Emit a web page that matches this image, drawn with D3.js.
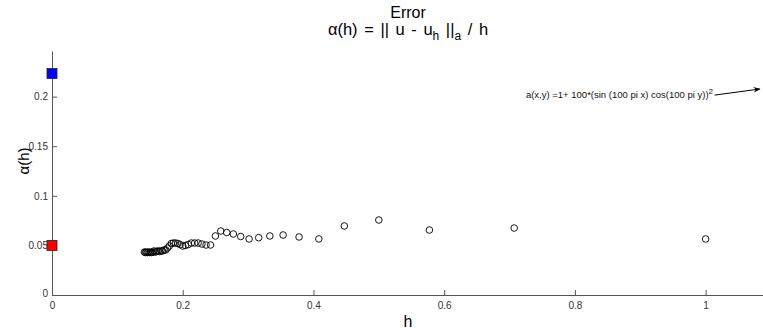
<!DOCTYPE html>
<html><head><meta charset="utf-8">
<script src="https://cdn.jsdelivr.net/npm/d3@7"></script>
<style>body{margin:0;background:#fff}svg{display:block}</style>
</head><body>
<svg id="chart" width="763" height="331"></svg>
<script>
const hValues = [1.0,0.7071,0.5774,0.5,0.4472,0.4082,0.378,0.3536,0.3333,0.3162,0.3015,0.2887,0.2774,0.2673,0.2582,0.25,0.2425,0.2357,0.2294,0.2236,0.2182,0.2132,0.2085,0.2041,0.2,0.1961,0.1925,0.189,0.1857,0.1826,0.1796,0.1768,0.1741,0.1715,0.169,0.1667,0.1644,0.1622,0.1601,0.1581,0.1562,0.1543,0.1525,0.1508,0.1491,0.1474,0.1459,0.1443,0.1429,0.1414];
const alphaValues = [0.0565,0.0675,0.0655,0.0756,0.0696,0.0565,0.0585,0.0605,0.0595,0.0578,0.0565,0.059,0.0615,0.063,0.0645,0.0595,0.0504,0.0504,0.0514,0.0524,0.0524,0.0524,0.0509,0.0499,0.0494,0.0509,0.0519,0.0524,0.0524,0.0519,0.0494,0.0474,0.0454,0.0454,0.0444,0.0444,0.0439,0.0444,0.0439,0.0433,0.0444,0.0433,0.0428,0.0433,0.0428,0.0433,0.0428,0.0433,0.0428,0.0433];
const squareMarkers = [{h:0, a:0.2233, color:"#0000ff"},{h:0, a:0.05, color:"#ff0000"}];
const xTicks = [0,0.2,0.4,0.6,0.8,1];
const xTickLabels = ["0","0.2","0.4","0.6","0.8","1"];
const yTicks = [0,0.05,0.1,0.15,0.2];
const yTickLabels = ["0","0.05","0.1","0.15","0.2"];
const annotation = {text:"a(x,y) =1+ 100*(sin (100 pi x) cos(100 pi y))", sup:"2", x:0.725, y:0.1985, arrowX:1.083, arrowY:0.2077};

const svg = d3.select("#chart");
const x = d3.scaleLinear().domain([0,1.1]).range([52,771]);
const y = d3.scaleLinear().domain([0,0.246]).range([295,51]);
const axisColor = "#555";
const tickFont = "'Liberation Sans Narrow','Arial Narrow','Liberation Sans',Arial,sans-serif";

// x axis
const gx = svg.append("g").attr("transform","translate(0,"+y(0)+")")
  .call(d3.axisBottom(x).tickValues(xTicks).tickFormat((d,i)=>xTickLabels[i]).tickSizeInner(-5).tickSizeOuter(0).tickPadding(4));
// y axis
const gy = svg.append("g").attr("transform","translate("+x(0)+",0)")
  .call(d3.axisLeft(y).tickValues(yTicks).tickFormat((d,i)=>yTickLabels[i]).tickSizeInner(-5).tickSizeOuter(0).tickPadding(4));
[gx,gy].forEach(g=>{
  g.select(".domain").attr("stroke",axisColor);
  g.selectAll(".tick line").attr("stroke",axisColor);
  g.selectAll(".tick text").attr("fill","#333").style("font-family",tickFont).style("font-size","10px").style("font-stretch","condensed");
});
gx.selectAll(".tick text").attr("dy","1em");
gy.selectAll(".tick text").filter(d=>d===0).attr("dy","0.1em");

// data circles
svg.append("g").selectAll("circle").data(hValues.map((h,i)=>({h,a:alphaValues[i]}))).join("circle")
  .attr("cx",d=>x(d.h)).attr("cy",d=>y(d.a)).attr("r",3.3)
  .attr("fill","none").attr("stroke","#000").attr("stroke-width",0.9);

// squares
svg.append("g").selectAll("rect").data(squareMarkers).join("rect")
  .attr("x",d=>x(d.h)-5).attr("y",d=>y(d.a)-5).attr("width",10).attr("height",10)
  .attr("fill",d=>d.color).attr("stroke","#222").attr("stroke-width",0.8);

const labelFont = "'Liberation Sans',Arial,sans-serif";
// title
const cx = 408;
svg.append("text").attr("x",cx).attr("y",18).attr("text-anchor","middle")
  .style("font-family",labelFont).style("font-size","16px").text("Error");
const t2 = svg.append("text").attr("x",cx).attr("y",35).attr("text-anchor","middle")
  .style("font-family",labelFont).style("font-size","16.5px").style("word-spacing","2px");
t2.append("tspan").text("\u03b1(h) = || u - u");
t2.append("tspan").attr("dy",5).style("font-size","12px").text("h");
t2.append("tspan").attr("dy",-5).text(" ||");
t2.append("tspan").attr("dy",5).style("font-size","12px").text("a");
t2.append("tspan").attr("dy",-5).text(" / h");

// axis labels
svg.append("text").attr("x",cx).attr("y",327).attr("text-anchor","middle")
  .style("font-family",labelFont).style("font-size","16px").text("h");
svg.append("text").attr("transform","translate(29,161) rotate(-90)").attr("text-anchor","middle")
  .style("font-family",labelFont).style("font-size","15px").text("\u03b1(h)");

// annotation
const ann = svg.append("text").attr("x",x(annotation.x)).attr("y",y(annotation.y))
  .style("font-family",labelFont).style("font-size","9.5px").attr("fill","#111");
ann.append("tspan").text(annotation.text);
ann.append("tspan").attr("dy",-4).style("font-size","8px").text(annotation.sup);
const bb = ann.node().getBBox();
const sx = bb.x+bb.width+1, sy = y(annotation.y)-3;
svg.append("defs").append("marker").attr("id","ah").attr("viewBox","0 0 10 10").attr("refX",9).attr("refY",5)
  .attr("markerWidth",7).attr("markerHeight",7).attr("orient","auto")
  .append("path").attr("d","M0,1 L10,5 L0,9 L3,5 Z").attr("fill","#000");
svg.append("line").attr("x1",sx).attr("y1",sy).attr("x2",x(annotation.arrowX)).attr("y2",y(annotation.arrowY))
  .attr("stroke","#000").attr("stroke-width",1).attr("marker-end","url(#ah)");
</script>
</body></html>
